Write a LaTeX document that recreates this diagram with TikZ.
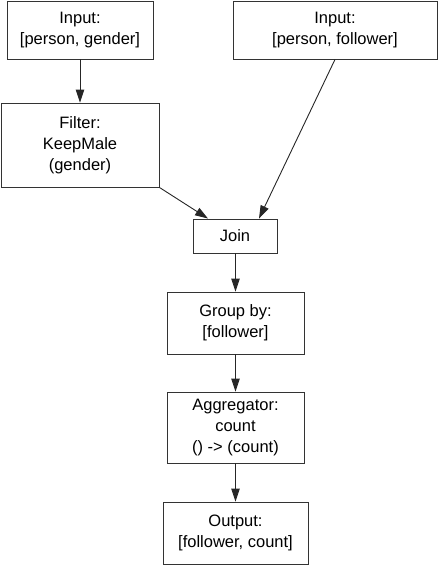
\documentclass[tikz,border=0pt]{standalone}
\usepackage{fontspec}
\setmainfont{Liberation Sans}
\usetikzlibrary{arrows.meta}
\begin{document}
\begin{tikzpicture}[x=1pt,y=-1pt,
  box/.style={draw=black!80,line width=0.9pt,rectangle,inner sep=0pt,align=center,
    font=\fontsize{16.5}{21}\selectfont},
  flow/.style={draw=black!85,line width=0.9pt,-{Triangle[length=13pt,width=8.5pt]}}]
\useasboundingbox (0,0) rectangle (438,565);
\node[box,minimum width=146pt,minimum height=58pt] (in1) at (80,30) {Input:\\{}{[person, gender]}};
\node[box,minimum width=204pt,minimum height=58pt] (in2) at (335,30) {Input:\\{}{[person, follower]}};
\node[box,minimum width=158pt,minimum height=84pt] (filter) at (80,145) {Filter:\\KeepMale\\(gender)};
\node[box,minimum width=84pt,minimum height=34pt] (join) at (235,236) {Join};
\node[box,minimum width=137pt,minimum height=62pt] (group) at (235.5,323) {Group by:\\{}{[follower]}};
\node[box,minimum width=137pt,minimum height=71pt] (agg) at (235.5,427.5) {Aggregator:\\count\\() -> (count)};
\node[box,minimum width=145pt,minimum height=62pt] (out) at (235.5,533) {Output:\\{}{[follower, count]}};
\draw[flow] (in1.south) -- (filter.north);
\draw[flow] (filter.south east) -- ([xshift=-27pt]join.north);
\draw[flow] (in2.south) -- ([xshift=24pt]join.north);
\draw[flow] ([xshift=0.5pt]join.south) -- ([xshift=0.5pt]join.south |- group.north);
\draw[flow] (group.south) -- (agg.north);
\draw[flow] (agg.south) -- (out.north);
\end{tikzpicture}
\end{document}
